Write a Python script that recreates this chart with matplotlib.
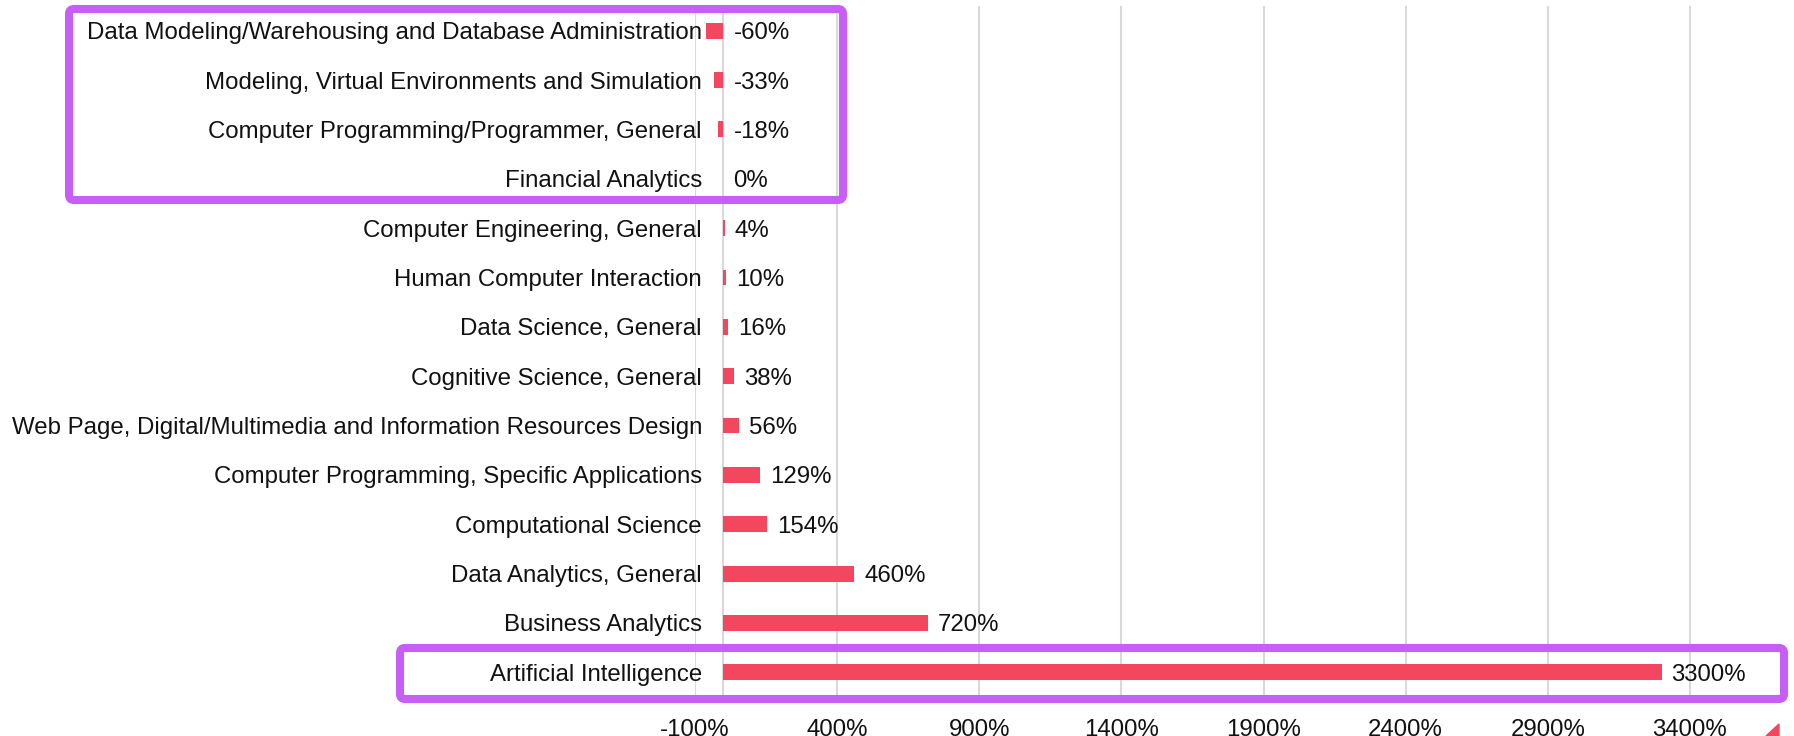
import matplotlib
matplotlib.use("Agg")
import matplotlib.pyplot as plt
from matplotlib.patches import FancyBboxPatch, Polygon
from matplotlib.transforms import IdentityTransform

# categories listed top to bottom
categories = [
    "Data Modeling/Warehousing and Database Administration",
    "Modeling, Virtual Environments and Simulation",
    "Computer Programming/Programmer, General",
    "Financial Analytics",
    "Computer Engineering, General",
    "Human Computer Interaction",
    "Data Science, General",
    "Cognitive Science, General",
    "Web Page, Digital/Multimedia and Information Resources Design",
    "Computer Programming, Specific Applications",
    "Computational Science",
    "Data Analytics, General",
    "Business Analytics",
    "Artificial Intelligence",
]
growth = [-60, -33, -18, 0, 4, 10, 16, 38, 56, 129, 154, 460, 720, 3300]
x_ticks = [-100, 400, 900, 1400, 1900, 2400, 2900, 3400]

BAR = "#F2475F"
PURPLE = "#C75EF7"
GRID = "#D9D9D9"
FS = 17.3

plt.rcParams["font.family"] = ["Liberation Sans", "DejaVu Sans"]

W, H = 1794, 736
fig = plt.figure(figsize=(W / 100, H / 100), dpi=100)
ax = fig.add_axes([695 / W, 1 - 697 / H, (W - 695) / W, (697 - 6) / H])

ypos = list(range(len(categories)))
ax.barh(ypos, growth, height=0.32, color=BAR, zorder=3)

for y, v in zip(ypos, growth):
    ax.annotate(f"{v}%", xy=(max(v, 0), y), xytext=(10, 0),
                textcoords="offset pixels", va="center_baseline", ha="left",
                fontsize=FS, color="#111111")

ax.set_xlim(-100, 3766)
ax.set_ylim(len(categories) - 0.5, -0.5)
ax.set_yticks(ypos)
ax.set_yticklabels(categories)
ax.set_xticks(x_ticks)
ax.set_xticklabels([f"{t}%" for t in x_ticks])
ax.tick_params(axis="y", length=0, pad=-5, labelsize=FS, labelcolor="#111111")
ax.tick_params(axis="x", length=0, pad=15.5, labelsize=FS, labelcolor="#111111")
ax.grid(axis="x", color=GRID, linewidth=1.5, zorder=0)
ax.axvline(0, color=GRID, linewidth=1.5, zorder=1)
for s in ax.spines.values():
    s.set_visible(False)

# highlight boxes (pixel coordinates, origin bottom-left)
for x0, y0, w, h in [(69, H - 200, 843 - 69, 191), (400, H - 699, 1784 - 400, 51)]:
    box = FancyBboxPatch((x0, y0), w, h, boxstyle="round,pad=0,rounding_size=5",
                         transform=IdentityTransform(), fill=False,
                         edgecolor=PURPLE, linewidth=5.8, zorder=10)
    fig.patches.append(box)

tri = Polygon([(1766, 0), (1779, 12), (1779, 0)], closed=True,
              transform=IdentityTransform(), color=BAR)
fig.patches.append(tri)

fig.savefig("out.png", dpi=100)
